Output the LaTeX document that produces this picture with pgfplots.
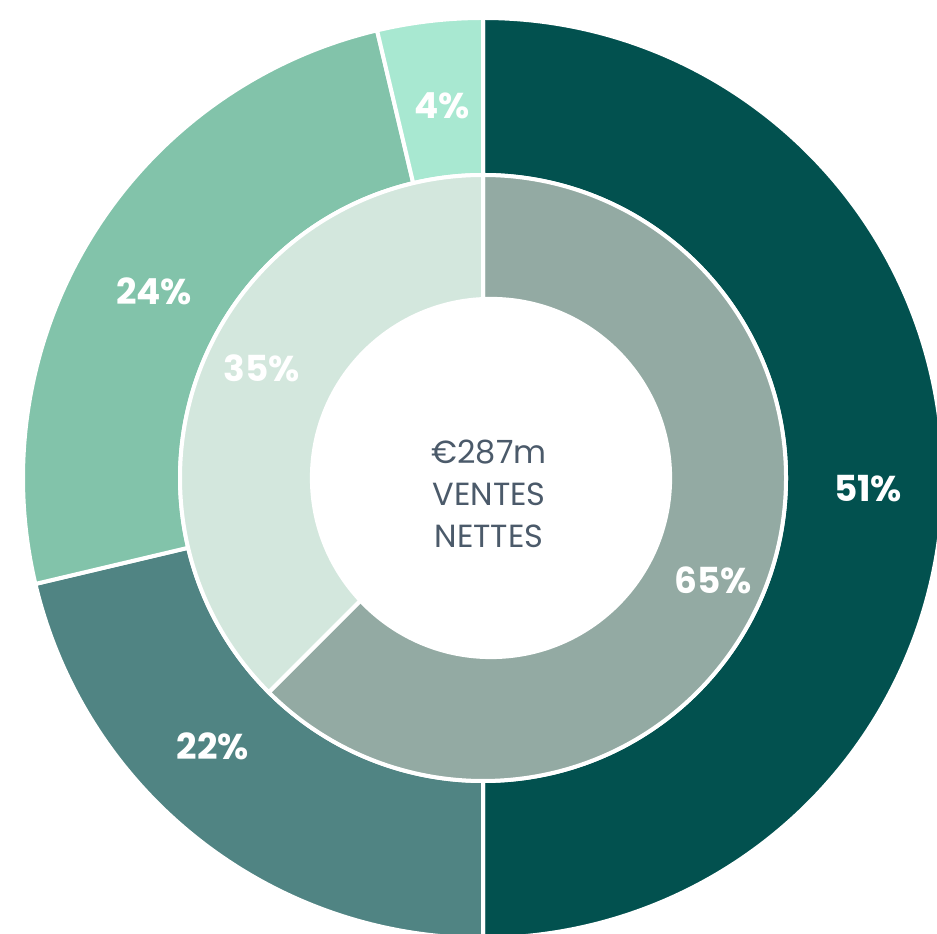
\documentclass[border=0pt]{standalone}
\usepackage{pgfplots}
\usepackage{pgfplotstable}
\pgfplotsset{compat=1.18}
\usepackage{fontspec}
\setmainfont{Poppins}

\definecolor{c51}{HTML}{02514F}
\definecolor{c22}{HTML}{508483}
\definecolor{c24}{HTML}{82C3AA}
\definecolor{c04}{HTML}{A8E8D1}
\definecolor{c65}{HTML}{93AAA3}
\definecolor{c35}{HTML}{D3E7DD}
\definecolor{ctext}{HTML}{4B5A6A}

% share = angular share of the ring (%), pct = printed label, lx/ly = label position
\pgfplotstableread{
share col pct lx ly
50.0 c51 51 385 -11
21.3 c22 22 -270 -268
25.0 c24 24 -329 187
3.7 c04 4 -41 372
}\outerring

\pgfplotstableread{
share col pct lx ly
62.5 c65 65 230 -102
37.5 c35 35 -221 110
}\innerring

% #1 table, #2 inner radius, #3 outer radius (1 unit = 0.01cm)
\newcommand\drawring[3]{%
  \pgfplotstablegetrowsof{#1}%
  \pgfmathtruncatemacro\lastrow{\pgfplotsretval-1}%
  \def\cum{0}%
  \pgfplotsforeachungrouped \i in {0,...,\lastrow}{%
    \pgfplotstablegetelem{\i}{share}\of{#1}\let\sh\pgfplotsretval
    \pgfplotstablegetelem{\i}{col}\of{#1}\let\cl\pgfplotsretval
    \pgfmathsetmacro\aa{90-3.6*\cum}%
    \pgfmathsetmacro\cum{\cum+\sh}%
    \pgfmathsetmacro\ab{90-3.6*\cum}%
    \pgfmathsetmacro\xa{#3*cos(\aa)}\pgfmathsetmacro\ya{#3*sin(\aa)}%
    \pgfmathsetmacro\xb{#2*cos(\ab)}\pgfmathsetmacro\yb{#2*sin(\ab)}%
    \edef\tmp{\noexpand\fill[\cl,draw=white,line width=0.04cm]
      (axis cs:\xa,\ya) arc[start angle=\aa,end angle=\ab,radius=#3*0.01cm]
      -- (axis cs:\xb,\yb) arc[start angle=\ab,end angle=\aa,radius=#2*0.01cm] -- cycle;}%
    \tmp
  }%
}

\newcommand\ringlabels[1]{%
  \pgfplotstablegetrowsof{#1}%
  \pgfmathtruncatemacro\lastrow{\pgfplotsretval-1}%
  \pgfplotsforeachungrouped \i in {0,...,\lastrow}{%
    \pgfplotstablegetelem{\i}{pct}\of{#1}\let\pc\pgfplotsretval
    \pgfplotstablegetelem{\i}{lx}\of{#1}\let\lx\pgfplotsretval
    \pgfplotstablegetelem{\i}{ly}\of{#1}\let\ly\pgfplotsretval
    \edef\tmp{\noexpand\node[text=white,font=\noexpand\fontsize{10.2}{12}\noexpand\selectfont\noexpand\bfseries]
      at (axis cs:\lx,\ly) {\pc\noexpand\%};}%
    \tmp
  }%
}

\begin{document}
\begin{tikzpicture}
\begin{axis}[
  hide axis,
  x=0.01cm, y=0.01cm,
  xmin=-483, xmax=454, ymin=-456, ymax=478,
]
\drawring{\outerring}{303}{460}
\drawring{\innerring}{150}{303}
\fill[white] (axis cs:8,0) circle[radius=1.81cm];
\ringlabels{\outerring}
\ringlabels{\innerring}
\node[align=center,text=ctext,font=\fontsize{9.1}{11.95}\selectfont] at (axis cs:6,-16)
  {€287m\\VENTES\\NETTES};
\end{axis}
\pgfresetboundingbox
\path (current axis.south west) rectangle (current axis.north east);
\end{tikzpicture}
\end{document}
